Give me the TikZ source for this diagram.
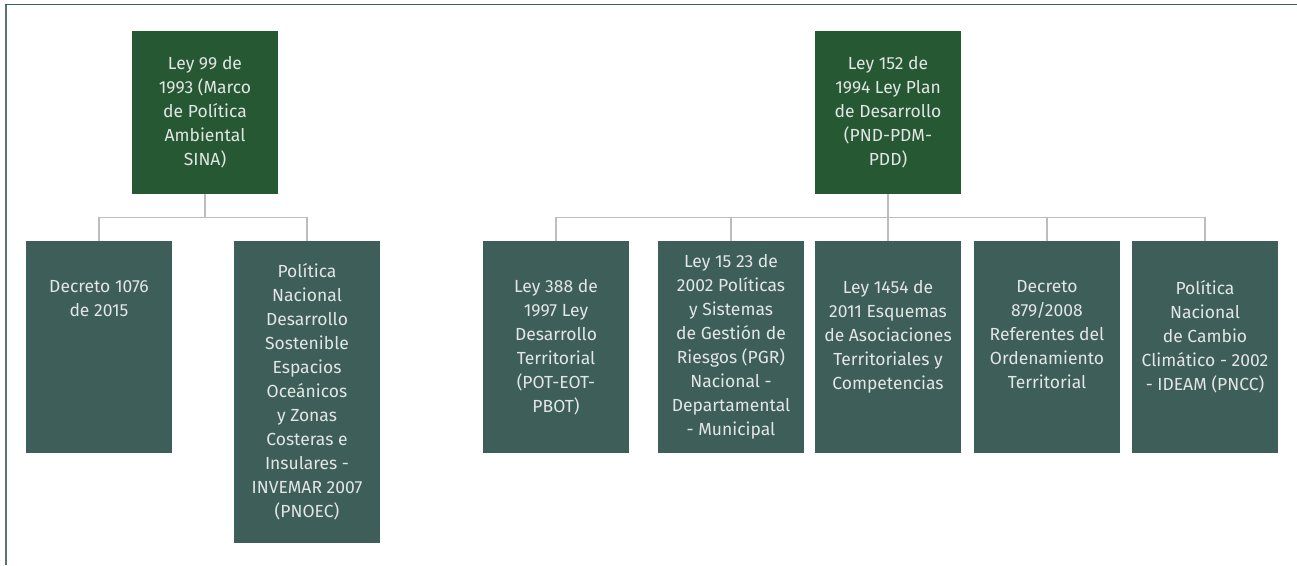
\documentclass[tikz,border=0pt]{standalone}
\usepackage{fontspec}
\setmainfont{Fira Sans}

\definecolor{headgreen}{HTML}{265834}
\definecolor{leafteal}{HTML}{3E5E5A}
\definecolor{labelgrey}{HTML}{E2E6E4}
\definecolor{linkgrey}{HTML}{BDBDBD}
\definecolor{frametop}{HTML}{3E5E5A}
\definecolor{frameleft}{HTML}{587572}

\newcommand{\boxfont}{\fontsize{17.5}{24}\selectfont}

\tikzstyle{headbox} = [rectangle, fill=headgreen, minimum width=146pt, minimum height=163pt, inner sep=0pt, text=labelgrey, align=center, font=\boxfont]
\tikzstyle{leafbox} = [rectangle, fill=leafteal, minimum width=146pt, inner sep=0pt, anchor=north, text=labelgrey, align=center, font=\boxfont]
\tikzstyle{boxlabel} = [inner sep=0pt, anchor=north, text=labelgrey, align=center, font=\boxfont]
\tikzstyle{link} = [draw=linkgrey, line width=1.3pt]

\begin{document}
\begin{tikzpicture}[x=1pt, y=-1pt]
      \useasboundingbox (0,0) rectangle (1297,565);
      \draw[frameleft, line width=2pt] (5.8,565) -- (5.8,4.5);
      \draw[frametop, line width=1.4pt] (5,4.5) -- (1297,4.5);

      % heads
      \node[headbox] (ley99) at (205,112.5) {Ley 99 de\\1993 (Marco\\de Política\\Ambiental\\SINA)};
      \node[headbox] (ley152) at (888,112.5) {Ley 152 de\\1994 Ley Plan\\de Desarrollo\\(PND-PDM-\\PDD)};

      % left branch
      \node[leafbox, minimum height=212pt] (dec1076) at (99,241) {};
      \node[boxlabel] (dec1076-txt) at ([yshift=-39pt]dec1076.north) {Decreto 1076\\de 2015};
      \node[leafbox, minimum height=302pt] (pnoec) at (307,241) {Política\\Nacional\\Desarrollo\\Sostenible\\Espacios\\Oceánicos\\y Zonas\\Costeras e\\Insulares -\\INVEMAR 2007\\(PNOEC)};

      % right branch
      \node[leafbox, minimum height=212pt] (ley388) at (556,241) {Ley 388 de\\1997 Ley\\Desarrollo\\Territorial\\(POT-EOT-\\PBOT)};
      \node[leafbox, minimum height=212pt] (ley1523) at (731,241) {Ley 15 23 de\\2002 Políticas\\y Sistemas\\de Gestión de\\Riesgos (PGR)\\Nacional -\\Departamental\\- Municipal};
      \node[leafbox, minimum height=212pt] (ley1454) at (888,241) {};
      \node[boxlabel] (ley1454-txt) at ([yshift=-39pt]ley1454.north) {Ley 1454 de\\2011 Esquemas\\de Asociaciones\\Territoriales y\\Competencias};
      \node[leafbox, minimum height=212pt] (dec879) at (1047,241) {};
      \node[boxlabel] (dec879-txt) at ([yshift=-39pt]dec879.north) {Decreto\\879/2008\\Referentes del\\Ordenamiento\\Territorial};
      \node[leafbox, minimum height=212pt] (pncc) at (1205,241) {};
      \node[boxlabel] (pncc-txt) at ([yshift=-39pt]pncc.north) {Política\\Nacional\\de Cambio\\Climático - 2002\\- IDEAM (PNCC)};

      \foreach \leaf in {dec1076,pnoec}
        \draw[link] (ley99.south) -- ++(0,23) -| (\leaf.north);
      \foreach \leaf in {ley388,ley1523,ley1454,dec879,pncc}
        \draw[link] (ley152.south) -- ++(0,23) -| (\leaf.north);
    \end{tikzpicture}
\end{document}
